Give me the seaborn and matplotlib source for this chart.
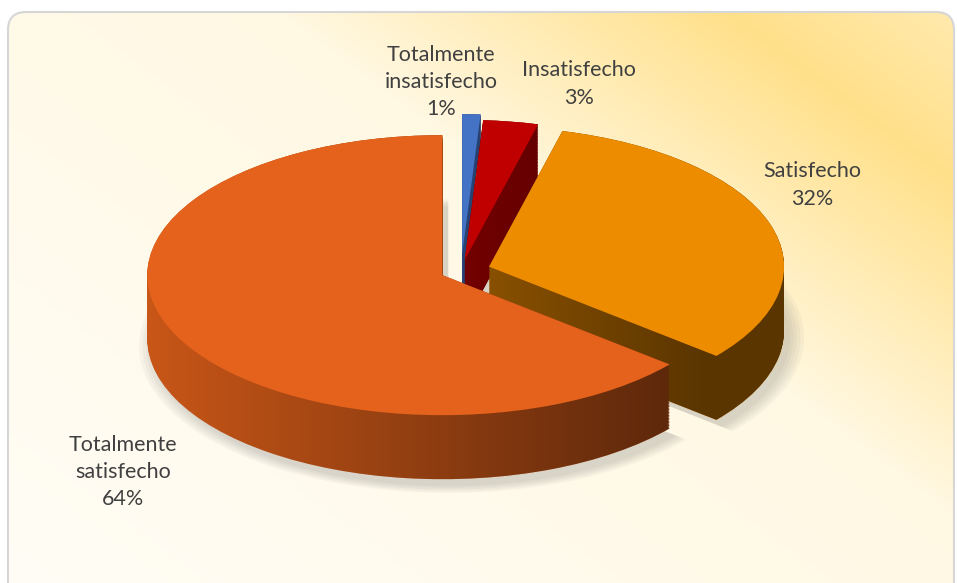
import numpy as np
import matplotlib.pyplot as plt
import seaborn as sns
from matplotlib.patches import FancyBboxPatch
from matplotlib.path import Path
from matplotlib.colors import LinearSegmentedColormap

sns.set_theme(style="white")
plt.rcParams['font.family'] = ['Lato', 'DejaVu Sans']

# datos
categorias = ["Totalmente\ninsatisfecho", "Insatisfecho", "Satisfecho", "Totalmente\nsatisfecho"]
porcentajes = [1, 3, 32, 64]
colores = ["#4472C4", "#C00000", "#EE8C00", "#E4621B"]
separacion = [0.12, 0.08, 0.10, 0.07]

W, H = 957, 583
CX, CY = 461, 271      # centro del pastel (px)
RX, RY = 295, 140      # radios de la elipse (px)
PROF = 64              # grosor del pastel (px)

def px2data(px, py):
    return (px - CX) / RX, (CY - py) / RY

fig = plt.figure(figsize=(W / 100, H / 100), dpi=100)
fig.patch.set_facecolor("white")

# fondo con degradado y borde redondeado
bg = fig.add_axes([0, 0, 1, 1])
bg.set_axis_off()
yy, xx = np.mgrid[0:H, 0:W]
t = xx / W * 0.55 + (1 - yy / H) * 0.45
cmap_bg = LinearSegmentedColormap.from_list(
    "fondo", [(0, "#FFFDF6"), (0.6, "#FFF8E3"), (0.86, "#FFE08A"), (1, "#FFEAB0")])
img = bg.imshow(t, cmap=cmap_bg, vmin=0, vmax=1, extent=(0, W, H, 0), aspect="auto")
marco = FancyBboxPatch((8, 12), 946, 640, boxstyle="round,pad=0,rounding_size=18",
                       fc="none", ec="#D6D6D6", lw=1.5)
bg.add_patch(marco)
img.set_clip_path(marco)
bg.set_xlim(0, W)
bg.set_ylim(H, 0)

ax = fig.add_axes([0, 0, 1, 1])
ax.set_axis_off()
ax.patch.set_alpha(0)

prof = PROF / RY

# sombra
for k in range(5):
    ax.pie(porcentajes, explode=separacion, colors=["#606060"] * 4, startangle=90,
           counterclock=False, radius=1 + 0.012 * k, center=(0.02, -prof - 0.05),
           wedgeprops=dict(linewidth=0, alpha=0.05, zorder=0.5))

# lados (capas)
lados = []
for dy in np.linspace(prof, 0, 45):
    wedges, _ = ax.pie(porcentajes, explode=separacion, colors=colores, startangle=90,
                       counterclock=False, center=(0, -dy),
                       wedgeprops=dict(linewidth=0, zorder=1))
    lados += [w.get_path() for w in wedges]

# sombreado horizontal de los lados
xs = np.arange(W)
alfa = 0.12 + 0.5 * np.clip((xs - 145) / (700 - 145), 0, 1)
capa = np.zeros((1, W, 4))
capa[0, :, 3] = alfa
x0, y0 = px2data(0, H)
x1, y1 = px2data(W, 0)
som = ax.imshow(capa, extent=(x0, x1, y0, y1), aspect="auto", interpolation="bilinear", zorder=2)
som.set_clip_path(Path.make_compound_path(*lados), ax.transData)

# cara superior
ax.pie(porcentajes, explode=separacion, colors=colores, startangle=90,
       counterclock=False, center=(0, 0), wedgeprops=dict(linewidth=0, zorder=3))

# etiquetas
pos_etiquetas = [(441, 82), (579, 84), (812, 185), (123, 472)]
for cat, pct, (px, py) in zip(categorias, porcentajes, pos_etiquetas):
    x, y = px2data(px, py)
    ax.text(x, y, f"{cat}\n{pct}%", ha="center", va="center", fontsize=15.5,
            color="#404040", linespacing=1.45, zorder=4)

ax.set_aspect("auto")
ax.set_xlim(x0, x1)
ax.set_ylim(y0, y1)

plt.savefig("out.png", dpi=100)
